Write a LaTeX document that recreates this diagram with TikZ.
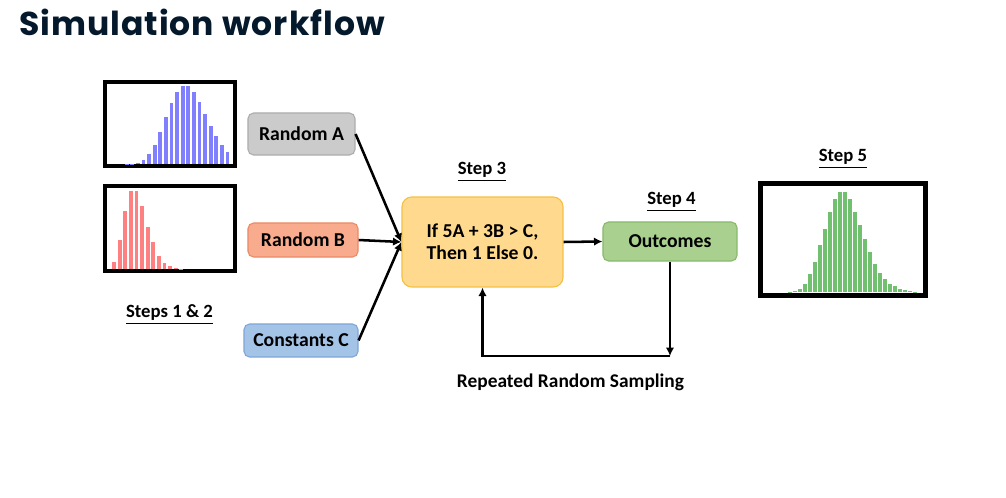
\documentclass[tikz,border=0pt]{standalone}
\usepackage{xcolor}
\usepackage{fontspec}
\setmainfont{Carlito}
\newfontfamily\titlefont[LetterSpace=3]{Poppins}
\usepackage{tikz}
\usetikzlibrary{positioning, arrows.meta}

\definecolor{titleblue}{HTML}{05192D}
\definecolor{grayfill}{HTML}{CBCBCB}
\definecolor{grayline}{HTML}{ADADAD}
\definecolor{redfill}{HTML}{F8AC8D}
\definecolor{redline}{HTML}{EC8A68}
\definecolor{bluefill}{HTML}{A3C3E7}
\definecolor{blueline}{HTML}{7FA7D8}
\definecolor{orangefill}{HTML}{FFD98D}
\definecolor{orangeline}{HTML}{F4C145}
\definecolor{greenfill}{HTML}{A9D08E}
\definecolor{greenline}{HTML}{88B96D}
\definecolor{histA}{RGB}{128,128,255}
\definecolor{histB}{RGB}{255,128,128}
\definecolor{histC}{RGB}{112,192,112}

\begin{document}
\begin{tikzpicture}[x=0.025cm, y=-0.025cm,
    box/.style={draw, line width=0.8pt, rounded corners=4pt, inner sep=0pt, align=center,
        font=\bfseries\fontsize{14}{15.5}\selectfont},
    steplabel/.style={anchor=base, inner sep=0pt, font=\bfseries\fontsize{13.3}{15}\selectfont},
    flow/.style={line width=1.8pt, -{Latex[length=6pt,width=6pt]}},
    frame/.style={draw=black, line width=2.9pt}]
    \useasboundingbox (0,0) rectangle (1006,498);

    \node[anchor=base west, inner sep=0pt, text=titleblue,
        font=\titlefont\bfseries\fontsize{23.5}{27}\selectfont] (title) at (19,36) {Simulation workflow};

    % histograms
    \draw[frame] (105,82) rectangle (235,166);
    \foreach \h [count=\i] in {0.3,0.7,1.3,4,10,19,32,47,61,72,78,78,72,62,50,38,28,19,12} {
        \fill[histA] ({126.7+5.6*(\i-1)-1.9},164.5) rectangle ++(3.8,-\h);
    }
    \draw[frame] (105,186) rectangle (235,271);
    \foreach \h [count=\i] in {7,29,58,78,78,63,42,27,13,6,3,1,0.3} {
        \fill[histB] ({114+5.6*(\i-1)-1.9},269.5) rectangle ++(3.8,-\h);
    }
    \draw[frame, line width=3.5pt] (760.5,183.5) rectangle (925.5,295.5);
    \foreach \h [count=\i] in {0.3,1.3,3.3,8,18,30,47,63,80,93,100,100,93,80,67,53,40,28,19,13,8,6,3.3,2,1,0.3} {
        \fill[histC] ({790+5*(\i-1)-1.7},292) rectangle ++(3.4,-\h);
    }

    % inputs
    \node[box, fill=grayfill, draw=grayline, minimum width=2.675cm, minimum height=1.05cm] (randA) at (301.5,134) {Random A};
    \node[box, fill=redfill, draw=redline, minimum width=2.75cm, minimum height=0.85cm] (randB) at (303,240) {Random B};
    \node[box, fill=bluefill, draw=blueline, minimum width=2.85cm, minimum height=0.825cm] (constC) at (301,340.5) {Constants C};

    % model and outcomes
    \node[box, fill=orangefill, draw=orangeline, rounded corners=7pt, minimum width=4.025cm, minimum height=2.25cm] (model) at (482.5,242) {If 5A + 3B > C,\\Then 1 Else 0.};
    \node[box, fill=greenfill, draw=greenline, minimum width=3.35cm, minimum height=0.975cm] (outc) at (670,241.5) {Outcomes};

    \node[steplabel] (s12) at (169.5,318) {\underline{Steps 1 \& 2}};
    \node[steplabel] (s3) at (482,175) {\underline{Step 3}};
    \node[steplabel] (s4) at (671.5,205) {\underline{Step 4}};
    \node[steplabel] (s5) at (843,162) {\underline{Step 5}};
    \node[steplabel, font=\bfseries\fontsize{13.8}{15}\selectfont] (rrs) at (570.5,387) {Repeated Random Sampling};

    \coordinate (loop) at (670,356);
    \draw[flow] (randA.east) -- (model.west);
    \draw[flow] (randB.east) -- (model.west);
    \draw[flow] (constC.east) -- (model.west);
    \draw[flow] (model.east) -- (outc.west);
    \draw[flow] (outc.south) -- (loop);
    \draw[flow] (loop) -| (model.south);
\end{tikzpicture}
\end{document}
